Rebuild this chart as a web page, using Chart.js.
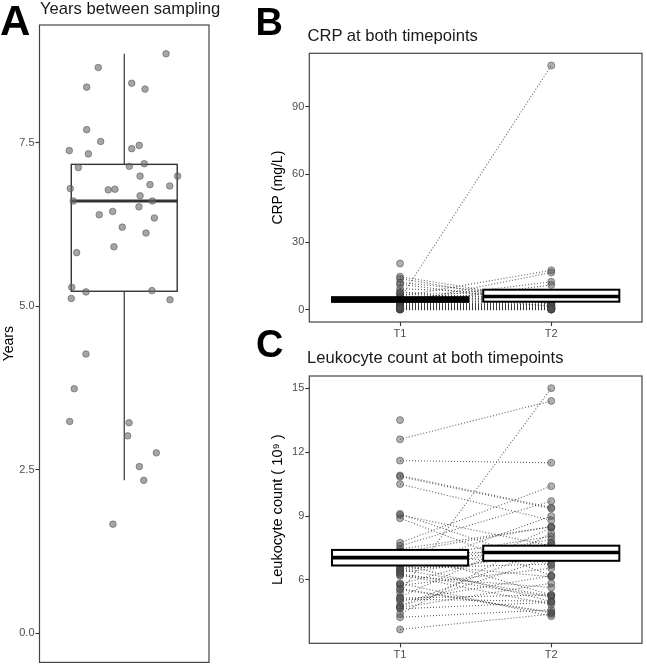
<!DOCTYPE html>
<html><head><meta charset="utf-8">
<script src="https://cdn.jsdelivr.net/npm/chart.js@4.4.1/dist/chart.umd.min.js"></script>
<style>
html,body{margin:0;padding:0;background:#fff;}
body{width:647px;height:670px;position:relative;overflow:hidden;font-family:"Liberation Sans",Arial,sans-serif;}
canvas{position:absolute;}
.lbl{position:absolute;font-weight:bold;color:#000;line-height:1;white-space:nowrap;z-index:2;}
.ttl{position:absolute;font-size:16.6px;color:#1a1a1a;line-height:1;white-space:nowrap;z-index:2;}
</style></head><body>
<canvas id="cA" width="215" height="670" style="left:0;top:0;width:215px;height:670px"></canvas>
<canvas id="cB" width="407" height="340" style="left:240px;top:0;width:407px;height:340px"></canvas>
<canvas id="cC" width="407" height="330" style="left:240px;top:340px;width:407px;height:330px"></canvas>
<div class="lbl" style="left:0;top:-0.5px;font-size:42px">A</div>
<div class="ttl" style="left:40px;top:0.5px">Years between sampling</div>
<div class="lbl" style="left:255.5px;top:2.8px;font-size:38px">B</div>
<div class="ttl" style="left:307.5px;top:28.3px">CRP at both timepoints</div>
<div class="lbl" style="left:256px;top:324.8px;font-size:38px">C</div>
<div class="ttl" style="left:307px;top:350.3px">Leukocyte count at both timepoints</div>
<script>
// ---------- Panel A: years between sampling ----------
const yearsX = [1.296,0.816,1.053,0.734,1.147,0.734,0.833,1.106,1.053,0.611,0.746,0.675,1.142,1.036,1.112,1.378,1.182,1.322,0.618,0.887,0.934,1.112,0.639,1.199,1.104,0.918,0.823,1.213,0.986,1.154,0.927,0.663,0.628,0.729,1.196,0.625,1.324,0.729,0.646,0.614,1.034,1.024,1.227,1.107,1.138,0.920];
const yearsY = [8.86,8.65,8.41,8.35,8.32,7.70,7.52,7.46,7.41,7.38,7.33,7.12,7.18,7.14,6.99,6.99,6.86,6.84,6.80,6.78,6.79,6.69,6.61,6.61,6.52,6.45,6.40,6.35,6.21,6.12,5.91,5.82,5.29,5.22,5.24,5.12,5.10,4.27,3.74,3.24,3.22,3.02,2.76,2.55,2.34,1.67];
// [lower whisker, Q1, median, Q3, upper whisker]
const yearsBoxStats = [2.34, 5.23, 6.61, 7.17, 8.86];
const yearsTicks = [0, 2.5, 5, 7.5];

// ---------- Panel B: CRP ----------
const timepoints = ['T1', 'T2'];
const crpT1 = [20.5,14.7,13.8,12.1,11.3,9.4,8.0,5.0,6.9,6.0,3.2,4.2,2.5,5.5,4.6,3.8,3.5,3.0,2.8,2.2,2.0,1.8,1.6,1.4,1.2,1.0,0.9,0.8,0.7,0.6,0.5,0.5,0.4,0.3,0.3,0.2,0.2,0.1,0.1,4.0,2.6,1.5,7.5,0.4,1.1,0.6];
const crpT2 = [null,4.0,2.5,5.5,3.0,6.5,1.5,108.2,4.5,17.5,16.5,12.4,11.0,7.5,7.0,6.0,5.0,2.0,4.2,3.5,1.0,2.8,0.8,1.2,0.5,2.2,0.6,1.8,0.4,0.3,0.9,0.2,0.6,1.4,0.3,0.2,0.5,0.1,0.7,3.2,1.6,2.5,6.8,0.1,3.8,0.2];
const crpBarLow = [3.5, 3.6];
const crpBarMid = [4.5, 5.9];
const crpBarHigh = [5.6, 8.9];
const crpTicks = [0, 30, 60, 90];

// ---------- Panel C: leukocyte count ----------
const leukT1 = [13.5,12.6,11.6,10.9,10.85,10.5,9.1,9.05,8.9,5.4,7.75,7.6,7.45,7.35,7.2,7.05,6.9,6.75,6.6,6.5,6.45,6.35,6.25,6.2,5.8,5.75,5.55,5.2,5.15,5.0,4.75,4.7,4.65,4.4,4.25,3.68,7.0,6.55,6.3,5.85,4.8,5.1,7.3,6.8,6.4,5.6];
const leukT2 = [null,14.4,11.5,9.4,9.35,8.8,6.7,7.6,6.2,15.0,10.4,9.7,8.5,5.3,7.4,6.9,8.05,5.0,7.9,5.25,9.0,7.2,4.85,5.65,7.75,6.55,4.5,8.45,5.3,6.2,7.05,5.85,4.95,8.2,4.6,4.4,7.3,6.75,5.2,4.3,7.5,5.0,8.5,6.15,7.7,4.45];
const leukBarLow = [6.68, 6.90];
const leukBarMid = [7.05, 7.29];
const leukBarHigh = [7.41, 7.61];
const leukTicks = [6, 9, 12, 15];

const FAMILY = '"Liberation Sans", Arial, sans-serif';
Chart.defaults.font.family = FAMILY;

const decoPlugin = {
  id: 'deco',
  beforeDatasetsDraw(chart, args, opts) {
    if (!opts.boxplot) return;
    const ctx = chart.ctx, xs = chart.scales.x, ys = chart.scales.y;
    const [lo, q1, med, q3, hi] = opts.boxplot;
    const cx = xs.getPixelForValue(1);
    const x0 = xs.getPixelForValue(1 - 0.375), x1 = xs.getPixelForValue(1 + 0.375);
    ctx.save();
    ctx.strokeStyle = '#333';
    ctx.lineWidth = 1.2;
    ctx.beginPath();
    ctx.moveTo(cx, ys.getPixelForValue(hi)); ctx.lineTo(cx, ys.getPixelForValue(q3));
    ctx.moveTo(cx, ys.getPixelForValue(q1)); ctx.lineTo(cx, ys.getPixelForValue(lo));
    ctx.stroke();
    ctx.lineWidth = 1.4;
    ctx.strokeRect(x0, ys.getPixelForValue(q3), x1 - x0, ys.getPixelForValue(q1) - ys.getPixelForValue(q3));
    ctx.lineWidth = 2.8;
    ctx.beginPath();
    ctx.moveTo(x0, ys.getPixelForValue(med)); ctx.lineTo(x1, ys.getPixelForValue(med));
    ctx.stroke();
    ctx.restore();
  },
  afterDatasetsDraw(chart, args, opts) {
    const ctx = chart.ctx, xs = chart.scales.x, ys = chart.scales.y;
    if (opts.crossbars) {
      const {low, mid, high} = opts.crossbars;
      ctx.save();
      for (let i = 0; i < low.length; i++) {
        const c = i + 1;
        const x0 = xs.getPixelForValue(c - 0.45), x1 = xs.getPixelForValue(c + 0.45);
        const yT = ys.getPixelForValue(high[i]), yB = ys.getPixelForValue(low[i]), yM = ys.getPixelForValue(mid[i]);
        ctx.fillStyle = '#fff';
        ctx.fillRect(x0, yT, x1 - x0, yB - yT);
        ctx.strokeStyle = '#000';
        ctx.lineWidth = 2;
        ctx.strokeRect(x0, yT, x1 - x0, yB - yT);
        ctx.lineWidth = 3.6;
        ctx.beginPath(); ctx.moveTo(x0, yM); ctx.lineTo(x1, yM); ctx.stroke();
      }
      ctx.restore();
    }
    const a = chart.chartArea;
    ctx.save();
    ctx.strokeStyle = '#444';
    ctx.lineWidth = 1.2;
    ctx.strokeRect(a.left, a.top, a.right - a.left, a.bottom - a.top);
    ctx.restore();
  }
};

function yAxis(min, max, tickVals, fmt, width, title, titlePad, tickPad, titleSize) {
  return {
    type: 'linear', min: min, max: max,
    afterBuildTicks: s => { s.ticks = tickVals.map(v => ({value: v})); },
    afterFit: s => { s.width = width; },
    ticks: {callback: fmt, color: '#4d4d4d', font: {size: 11}, padding: tickPad, autoSkip: false},
    grid: {drawOnChartArea: false, drawTicks: true, tickLength: 4, tickColor: '#333', tickWidth: 1.1},
    border: {display: false},
    title: {display: true, text: title, color: '#000', font: {size: titleSize}, padding: {top: titlePad, bottom: 0}}
  };
}
function xAxisTP() {
  return {
    type: 'linear', min: 0.4, max: 2.6,
    afterBuildTicks: s => { s.ticks = [1, 2].map(v => ({value: v})); },
    afterFit: s => { s.height = 18; },
    ticks: {callback: v => timepoints[v - 1], color: '#4d4d4d', font: {size: 11}, padding: 1, autoSkip: false, maxRotation: 0},
    grid: {drawOnChartArea: false, drawTicks: true, tickLength: 4, tickColor: '#333', tickWidth: 1.1},
    border: {display: false}
  };
}
const baseOpts = {
  responsive: false, animation: false, devicePixelRatio: 1, events: []
};

// Panel A chart
new Chart(document.getElementById('cA'), {
  type: 'scatter',
  data: {datasets: [{
    data: yearsX.map((x, i) => ({x: x, y: yearsY[i]})),
    pointRadius: 3.3,
    backgroundColor: 'rgba(105,105,105,0.6)',
    borderColor: 'rgba(85,85,85,0.7)',
    borderWidth: 0.8
  }]},
  options: Object.assign({}, baseOpts, {
    layout: {padding: {left: 0, top: 25, right: 6, bottom: 3}},
    scales: {
      x: {type: 'linear', min: 0.4, max: 1.6, display: false},
      y: yAxis(-0.443, 9.3, yearsTicks, v => v.toFixed(1), 39.5, 'Years', 0.5, 1, 14)
    },
    plugins: {legend: {display: false}, tooltip: {enabled: false}, deco: {boxplot: yearsBoxStats}}
  }),
  plugins: [decoPlugin]
});

function pairedDatasets(t1, t2) {
  const ds = [];
  ds.push({
    type: 'scatter',
    data: t1.map(v => ({x: 1, y: v})),
    pointRadius: 3.5, backgroundColor: 'rgba(80,80,80,0.45)', borderColor: 'rgba(60,60,60,0.5)', borderWidth: 1
  });
  ds.push({
    type: 'scatter',
    data: t2.filter(v => v !== null).map(v => ({x: 2, y: v})),
    pointRadius: 3.5, backgroundColor: 'rgba(80,80,80,0.45)', borderColor: 'rgba(60,60,60,0.5)', borderWidth: 1
  });
  t1.forEach((v, i) => {
    if (t2[i] === null) return;
    ds.push({
      type: 'line',
      data: [{x: 1, y: v}, {x: 2, y: t2[i]}],
      showLine: true, pointRadius: 0, fill: false,
      borderColor: 'rgba(55,55,55,0.8)', borderWidth: 1.1, borderDash: [1, 2]
    });
  });
  return ds;
}

// Panel B chart
new Chart(document.getElementById('cB'), {
  type: 'scatter',
  data: {datasets: pairedDatasets(crpT1, crpT2)},
  options: Object.assign({}, baseOpts, {
    layout: {padding: {left: 0, top: 53.3, right: 2, bottom: 0}},
    scales: {
      x: xAxisTP(),
      y: yAxis(-5.4, 113.6, crpTicks, v => String(v), 69.3, 'CRP (mg/L)', 29.6, 1, 14)
    },
    plugins: {legend: {display: false}, tooltip: {enabled: false},
      deco: {crossbars: {low: crpBarLow, mid: crpBarMid, high: crpBarHigh}}}
  }),
  plugins: [decoPlugin]
});

// Panel C chart
new Chart(document.getElementById('cC'), {
  type: 'scatter',
  data: {datasets: pairedDatasets(leukT1, leukT2)},
  options: Object.assign({}, baseOpts, {
    layout: {padding: {left: 0, top: 36, right: 2, bottom: 8.7}},
    scales: {
      x: xAxisTP(),
      y: yAxis(3.03, 15.57, leukTicks, v => String(v), 69.3, 'Leukocyte count ( 10\u2079 )', 29.2, 1, 14.6)
    },
    plugins: {legend: {display: false}, tooltip: {enabled: false},
      deco: {crossbars: {low: leukBarLow, mid: leukBarMid, high: leukBarHigh}}}
  }),
  plugins: [decoPlugin]
});
</script>
</body></html>
